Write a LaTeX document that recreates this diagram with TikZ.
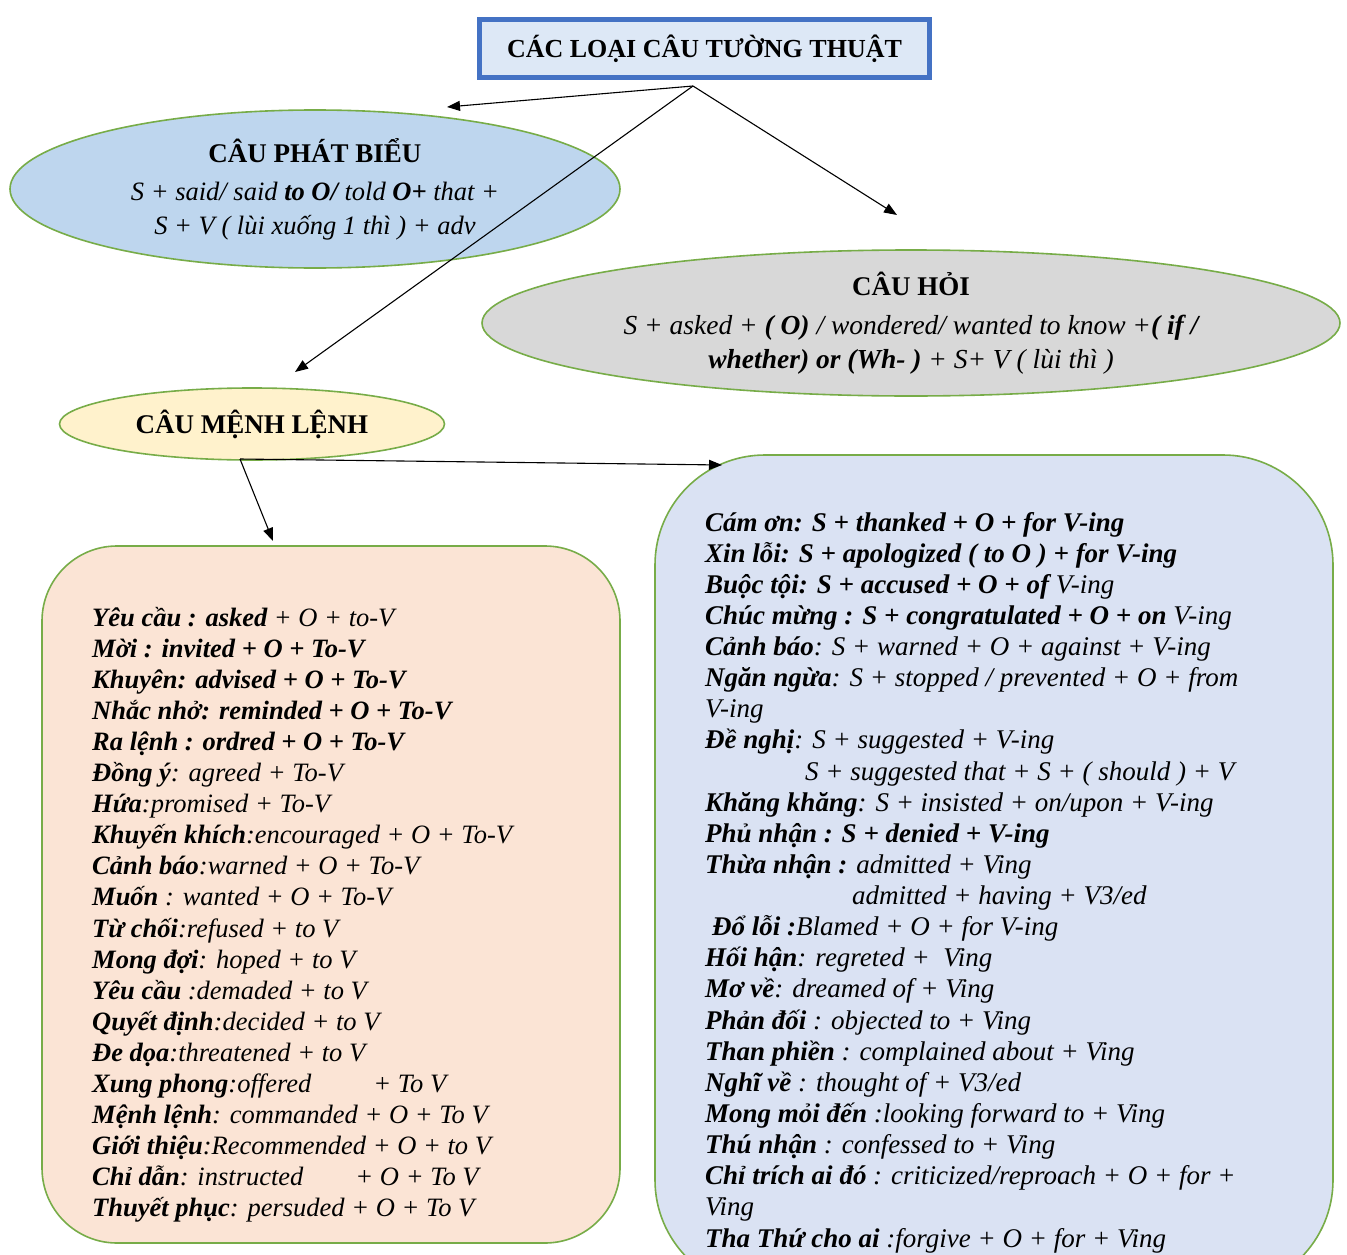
\documentclass[tikz,border=0pt]{standalone}
\usepackage{fontspec}
\setmainfont{Liberation Serif}
\usetikzlibrary{arrows.meta,positioning,shapes.geometric}
\definecolor{titleblue}{RGB}{68,114,196}
\definecolor{titlefill}{RGB}{221,232,246}
\definecolor{ovalgreen}{RGB}{119,172,72}
\definecolor{pbfill}{RGB}{190,214,238}
\definecolor{hoifill}{RGB}{216,216,216}
\definecolor{mlfill}{RGB}{255,242,204}
\definecolor{leftfill}{RGB}{251,228,213}
\definecolor{rightfill}{RGB}{218,226,243}
\tikzset{
  titlebox/.style={draw=titleblue, line width=5pt, fill=titlefill, inner sep=0pt,
    font=\fontsize{26}{30}\selectfont\bfseries},
  oval/.style={ellipse, draw=ovalgreen, line width=1.6pt, align=center, inner sep=0pt,
    font=\fontsize{#1}{34}\selectfont\itshape},
  listbox/.style={draw=ovalgreen, line width=1.6pt, rounded corners=#1},
  linetxt/.style={anchor=base west, inner sep=0pt, font=\fontsize{#1}{31}\selectfont\itshape},
  arr/.style={-{Triangle[length=13pt,width=10pt]}, line width=1.1pt, black},
}
\newcommand{\headtxt}[1]{{\fontsize{27}{38}\selectfont\upshape\bfseries #1}}

\begin{document}
\begin{tikzpicture}[x=1pt, y=-1pt]
  \useasboundingbox (0,0) rectangle (1347,1255);
  % title
  \node[titlebox, minimum width=450pt, minimum height=58pt] (title) at (704.5,48.5)
    {CÁC LOẠI CÂU TƯỜNG THUẬT};
  % three kinds
  \node[oval=26.5, fill=pbfill, minimum width=610pt, minimum height=158pt] (phatbieu) at (315,189)
    {\headtxt{CÂU PHÁT BIỂU}\\[4pt]
     S + said/ said \textbf{to O/} told \textbf{O+} that +\\
     S + V ( lùi xuống 1 thì ) + adv};
  \node[oval=27.5, fill=hoifill, minimum width=858pt, minimum height=146pt] (cauhoi) at (911,323)
    {\headtxt{CÂU HỎI}\\[5pt]
     S + asked + \textbf{( O)} / wondered/ wanted to know +\textbf{( if /}\\
     \textbf{whether) or (Wh- )} + S+ V ( lùi thì )};
  \node[oval=24, fill=mlfill, minimum width=385pt, minimum height=72pt] (menhlenh) at (252,424)
    {\headtxt{CÂU MỆNH LỆNH}};
  % the two lists
  \node[listbox=75pt, fill=leftfill, minimum width=578pt, minimum height=697pt] (toV) at (331,894.5) {};
  \node[listbox=110pt, fill=rightfill, minimum width=678pt, minimum height=835pt] (ving) at (994,872.5) {};
  \foreach \txt [count=\i from 0] in {
    {\textbf{Yêu cầu : asked} + O + to-V},
    {\textbf{Mời : invited + O + To-V}},
    {\textbf{Khuyên: advised + O + To-V}},
    {\textbf{Nhắc nhở: reminded + O + To-V}},
    {\textbf{Ra lệnh : ordred + O + To-V}},
    {\textbf{Đồng ý}: agreed + To-V},
    {\textbf{Hứa}:promised + To-V},
    {\textbf{Khuyến khích}:encouraged + O + To-V},
    {\textbf{Cảnh báo}:warned + O + To-V},
    {\textbf{Muốn} : wanted + O + To-V},
    {\textbf{Từ chối}:refused + to V},
    {\textbf{Mong đợi}: hoped + to V},
    {\textbf{Yêu cầu} :demaded + to V},
    {\textbf{Quyết định}:decided + to V},
    {\textbf{Đe dọa}:threatened + to V},
    {\textbf{Xung phong}:offered\hspace*{62pt}+ To V},
    {\textbf{Mệnh lệnh}: commanded + O + To V},
    {\textbf{Giới thiệu}:Recommended + O + to V},
    {\textbf{Chỉ dẫn}: instructed\hspace*{52pt}+ O + To V},
    {\textbf{Thuyết phục}: persuded + O + To V}}
    { \node[linetxt=26.5] (toV\i) at (92,626+31.1*\i) {\txt}; }
  \foreach \txt [count=\i from 0] in {
    {\textbf{Cám ơn: S + thanked + O + for V-ing}},
    {\textbf{Xin lỗi: S + apologized ( to O ) + for V-ing}},
    {\textbf{Buộc tội: S + accused + O + of} V-ing},
    {\textbf{Chúc mừng : S + congratulated + O + on} V-ing},
    {\textbf{Cảnh báo}: S + warned + O + against + V-ing},
    {\textbf{Ngăn ngừa}: S + stopped / prevented + O + from},
    {V-ing},
    {\textbf{Đề nghị}: S + suggested + V-ing},
    {\hspace*{100pt}S + suggested that + S + ( should ) + V},
    {\textbf{Khăng khăng}: S + insisted + on/upon + V-ing},
    {\textbf{Phủ nhận : S + denied + V-ing}},
    {\textbf{Thừa nhận :} admitted + Ving},
    {\hspace*{147pt}admitted + having + V3/ed},
    {\hspace*{7pt}\textbf{Đổ lỗi :}Blamed + O + for V-ing},
    {\textbf{Hối hận}: regreted + \ Ving},
    {\textbf{Mơ về}: dreamed of + Ving},
    {\textbf{Phản đối} : objected to + Ving},
    {\textbf{Than phiền} : complained about + Ving},
    {\textbf{Nghĩ về} : thought of + V3/ed},
    {\textbf{Mong mỏi đến} :looking forward to + Ving},
    {\textbf{Thú nhận} : confessed to + Ving},
    {\textbf{Chỉ trích ai đó} : criticized/reproach + O + for +},
    {Ving},
    {\textbf{Tha Thứ cho ai} :forgive + O + for + Ving}}
    { \node[linetxt=27] (ving\i) at (705,531+31.13*\i) {\txt}; }
  % connectors
  \coordinate (hub) at (693,86);
  \coordinate (pbtip) at (447,107);
  \coordinate (hoitip) at (897,215);
  \coordinate (mltip) at (295,372);
  \coordinate (mlfoot) at (240,459);
  \coordinate (toVtip) at (273,541);
  \coordinate (vingtip) at (722,465);
  \draw[arr] (hub) -- (pbtip);
  \draw[arr] (hub) -- (hoitip);
  \draw[arr] (hub) -- (mltip);
  \draw[arr] (mlfoot) -- (toVtip);
  \draw[arr] (mlfoot) -- (vingtip);
\end{tikzpicture}
\end{document}
